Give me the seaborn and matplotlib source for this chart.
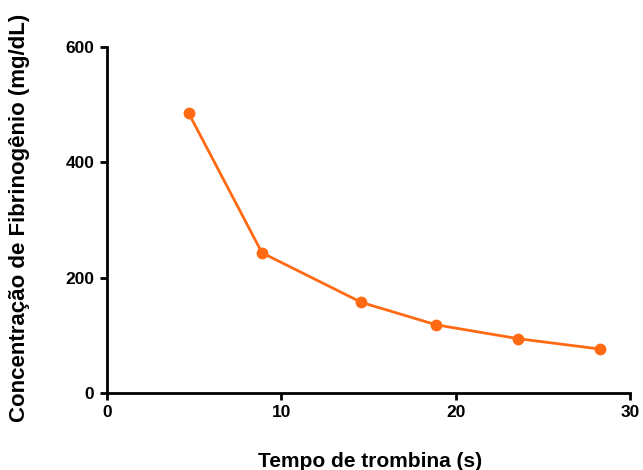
import matplotlib
matplotlib.use("Agg")
import matplotlib.pyplot as plt
import seaborn as sns
import pandas as pd

tempo = [4.7, 8.9, 14.6, 18.9, 23.6, 28.3]
fibrinogenio = [485, 243, 157, 118, 94, 76]
x_ticks = [0, 10, 20, 30]
y_ticks = [0, 200, 400, 600]

sns.set_style("ticks")
plt.rcParams['font.family'] = ['Liberation Sans', 'DejaVu Sans']
plt.rcParams['axes.labelcolor'] = 'black'
plt.rcParams['text.color'] = 'black'

df = pd.DataFrame({"tempo": tempo, "fib": fibrinogenio})

fig = plt.figure(figsize=(6.43, 4.70), dpi=100)
ax = fig.add_axes([0.166, 0.164, 0.814, 0.736])
sns.lineplot(data=df, x="tempo", y="fib", ax=ax, color="#FF6A13",
             linewidth=2, marker="o", markersize=8.5, markeredgewidth=0)

ax.set_xlim(0, 30)
ax.set_ylim(0, 600)
ax.set_xticks(x_ticks)
ax.set_yticks(y_ticks)
for s in ["top", "right"]:
    ax.spines[s].set_visible(False)
for s in ["left", "bottom"]:
    ax.spines[s].set_linewidth(2)
    ax.spines[s].set_color("black")
ax.tick_params(axis="both", width=2, length=5, labelsize=12.5, colors="black", direction="out", pad=4)
for lab in ax.get_xticklabels() + ax.get_yticklabels():
    lab.set_fontweight("bold")
ax.set_xlabel("Tempo de trombina (s)", fontsize=15, fontweight="bold", color="black")
ax.set_ylabel("Concentração de Fibrinogênio (mg/dL)", fontsize=16, fontweight="bold", color="black")
ax.xaxis.label.set_va("center")
ax.yaxis.label.set_va("center")
ax.xaxis.set_label_coords(0.503, -0.199)
ax.yaxis.set_label_coords(-0.166, 0.506)

fig.savefig("out.png", dpi=100)
